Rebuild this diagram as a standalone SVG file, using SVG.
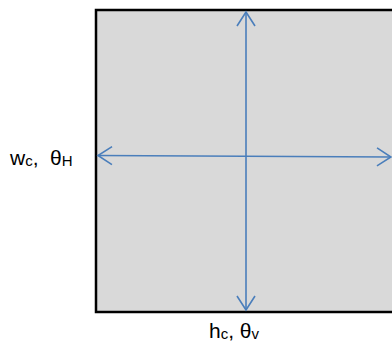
<svg xmlns="http://www.w3.org/2000/svg" width="392" height="351" viewBox="0 0 392 351">
<style>
.lbl{font-family:"Liberation Sans",Arial,sans-serif;font-size:21px;fill:#000;white-space:pre}
.sub{font-size:15px}
.arr{stroke:#4A7EBB;stroke-width:1.6;fill:none}
</style>
<defs>
<marker id="head" markerUnits="userSpaceOnUse" markerWidth="20" markerHeight="22" refX="15" refY="10" orient="auto-start-reverse" viewBox="0 0 20 20">
<path d="M1,1 L15,10 L1,19" fill="none" stroke="#4A7EBB" stroke-width="1.6"/>
</marker>
</defs>
<g id="box">
<rect x="96" y="10" width="300" height="302" fill="#D9D9D9" stroke="#000" stroke-width="2.5"/>
</g>
<g id="connectors">
<line class="arr" x1="246" y1="12" x2="246" y2="310" marker-start="url(#head)" marker-end="url(#head)"/>
<line class="arr" x1="98" y1="155.5" x2="391" y2="157" marker-start="url(#head)" marker-end="url(#head)"/>
</g>
<g id="label-w">
<text class="lbl" x="10" y="165">w<tspan class="sub" dy="1">c</tspan><tspan dy="-1">,</tspan><tspan x="50">θ</tspan><tspan class="sub" dy="1">H</tspan></text>
</g>
<g id="label-h">
<text class="lbl" x="209" y="338">h<tspan class="sub" dy="1">c</tspan><tspan dy="-1">, θ</tspan><tspan class="sub" dy="1">v</tspan></text>
</g>
</svg>
